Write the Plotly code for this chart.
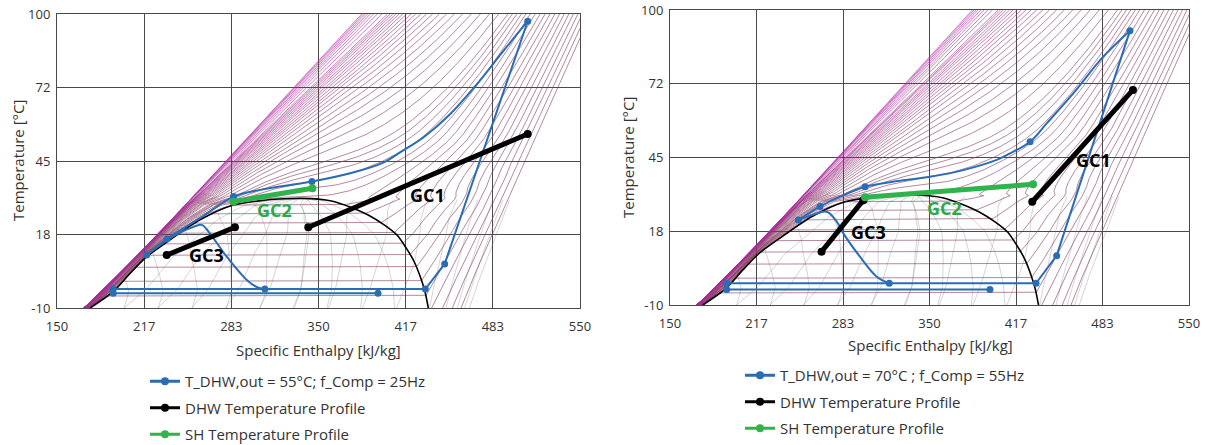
import numpy as np
import plotly.graph_objects as go

W, H = 1205, 445

# ---------------- saturation dome (R744) ----------------
DOME_H = [175.3, 193.0, 206.0, 218.6, 236.4, 259.4, 284.9, 310.4, 324.0, 337.0, 350.0, 360.0,
          374.5, 388.0, 400.5, 410.0, 417.0, 423.0, 428.0, 431.5, 434.0]
DOME_T = [-10.0, -3.9, 3.0, 9.2, 15.5, 23.0, 28.5, 30.4, 30.85, 31.0, 30.75, 30.0,
          27.7, 24.8, 21.0, 17.3, 12.5, 7.5, 1.5, -4.0, -10.0]

# ---------------- cycle A: T_DHW,out = 55 °C, 25 Hz ----------------
A_GC_H = [510.0, 491.6, 471.2, 450.8, 430.4, 412.6, 400.0, 374.3, 345.0, 305.3, 285.0, 262.0, 234.0, 218.6]
A_GC_T = [97.3, 86.3, 73.8, 62.6, 53.9, 48.3, 44.5, 40.4, 37.3, 34.2, 31.7, 24.5, 15.8, 9.8]
A_EXP_H = [218.6, 240.0, 255.0, 260.7, 266.0, 279.8, 295.1, 303.0, 309.0]
A_EXP_T = [9.8, 17.2, 20.5, 21.1, 18.5, 9.2, 0.5, -2.2, -2.9]
A_LOOP_H = [193.0, 431.7, 446.5, 510.0]
A_LOOP_T = [-2.9, -2.9, 6.5, 97.3]
A_LOW_H = [193.0, 395.5]
A_LOW_T = [-4.5, -4.5]
A_DOT_H = [510.0, 345.0, 285.0, 234.0, 218.6, 193.0, 193.0, 309.0, 395.5, 431.7, 446.5]
A_DOT_T = [97.3, 37.3, 31.7, 15.8, 9.8, -2.9, -4.5, -2.9, -4.5, -2.9, 6.5]
A_GC1_H, A_GC1_T = [342.2, 510.0], [20.2, 55.1]
A_GC3_H, A_GC3_T = [233.9, 286.1], [9.8, 20.2]
A_SH_H, A_SH_T = [284.9, 345.3], [29.8, 34.8]
A_LABELS = [("GC1", 433.0, 32.3), ("GC2", 316.7, 26.5), ("GC3", 264.5, 9.8)]

# ---------------- cycle B: T_DHW,out = 70 °C, 55 Hz ----------------
B_GC_H = [504.5, 483.9, 460.8, 440.3, 427.5, 409.5, 401.8, 376.0, 350.4, 325.0, 300.3, 283.6, 265.6, 248.9]
B_GC_T = [92.3, 82.6, 68.9, 57.7, 50.9, 45.9, 44.1, 40.3, 37.8, 36.2, 34.1, 31.0, 26.7, 21.7]
B_EXP_H = [248.9, 260.0, 270.8, 278.5, 283.6, 296.4, 309.3, 319.0]
B_EXP_T = [21.7, 23.6, 24.8, 21.1, 16.7, 8.0, 0.55, -1.9]
B_LOOP_H = [193.7, 432.1, 448.0, 504.5]
B_LOOP_T = [-1.9, -1.9, 8.4, 92.3]
B_LOW_H = [193.7, 396.6]
B_LOW_T = [-4.2, -4.2]
B_DOT_H = [504.5, 427.5, 300.3, 265.6, 248.9, 193.7, 193.7, 319.0, 396.6, 432.1, 448.0]
B_DOT_T = [92.3, 50.9, 34.1, 26.7, 21.7, -1.9, -4.2, -1.9, -4.2, -1.9, 8.4]
B_GC1_H, B_GC1_T = [429.2, 506.8], [28.5, 70.2]
B_GC3_H, B_GC3_T = [266.8, 299.0], [9.9, 29.1]
B_SH_H, B_SH_T = [300.3, 429.8], [30.2, 35.0]
B_LABELS = [("GC1", 476.2, 44.1), ("GC2", 361.8, 26.1), ("GC3", 302.6, 17.3)]

LEG_A = "T_DHW,out = 55°C; f_Comp = 25Hz"
LEG_B = "T_DHW,out = 70°C ; f_Comp = 55Hz"
LEG_DHW = "DHW Temperature Profile"
LEG_SH = "SH Temperature Profile"

X_TICKS = [150, 216.67, 283.33, 350, 416.67, 483.33, 550]
X_TEXT = ["150", "217", "283", "350", "417", "483", "550"]
Y_TICKS = [-10, 17.5, 45, 72.5, 100]
Y_TEXT = ["-10", "18", "45", "72", "100"]

# background property lines: isobars [bar] and isentropes [kJ/(kg K) above sat. liquid at -10 °C]
ISOBARS_BAR = list(range(10, 105, 5)) + list(range(110, 310, 10)) + list(range(325, 525, 25))
ISENTROPE_STEPS = [0.1 * k for k in range(1, 15)]
EDGE_H = (175.5, 383.0)     # liquid edge of the isobar fan at -10 °C and 100 °C

# ---------------- Peng-Robinson model of CO2 for the chart background ----------------
SQ2 = np.sqrt(2.0)
MW = 44.0098
RG = 8314.462618 / MW
TC, PC, OMEGA = 304.1282, 7.3773e6, 0.22394
A_C = 0.45724 * RG ** 2 * TC ** 2 / PC
B_C = 0.07780 * RG * TC / PC
KAPPA = 0.37464 + 1.54226 * OMEGA - 0.26992 * OMEGA ** 2
CP = (22.26, 5.981e-2, -3.501e-5, 7.469e-9)   # ideal-gas cp, kJ/(kmol K)
T_SUB = 30.95


def h_ideal(T):
    c0, c1, c2, c3 = CP
    f = lambda t: c0 * t + c1 * t ** 2 / 2 + c2 * t ** 3 / 3 + c3 * t ** 4 / 4
    return (f(T) - f(273.15)) * 1000.0 / MW


def s_ideal(T, P):
    c0, c1, c2, c3 = CP
    f = lambda t: c0 * np.log(t) + c1 * t + c2 * t ** 2 / 2 + c3 * t ** 3 / 3
    return (f(T) - f(273.15)) * 1000.0 / MW - RG * np.log(P / 1e5)


def pr_eval(T, P):
    T, P = np.broadcast_arrays(np.asarray(T, float), np.asarray(P, float))
    sqa = 1 + KAPPA * (1 - np.sqrt(T / TC))
    a = A_C * sqa ** 2
    da = -A_C * KAPPA * sqa / np.sqrt(T * TC)
    A = a * P / (RG * T) ** 2
    B = B_C * P / (RG * T)
    C = np.zeros(T.shape + (3, 3))
    C[..., 0, 0] = 1 - B
    C[..., 0, 1] = -(A - 3 * B ** 2 - 2 * B)
    C[..., 0, 2] = A * B - B ** 2 - B ** 3
    C[..., 1, 0] = 1.0
    C[..., 2, 1] = 1.0
    r = np.linalg.eigvals(C)
    Bx, Ax = B[..., None], A[..., None]
    Z = np.where(np.abs(r.imag) < 1e-7, r.real, np.nan)
    Z = np.where(Z > Bx * 1.0000001, Z, np.nan)
    with np.errstate(invalid="ignore", divide="ignore"):
        L = np.log((Z + (1 + SQ2) * Bx) / (Z + (1 - SQ2) * Bx))
        lnphi = Z - 1 - np.log(Z - Bx) - Ax / (2 * SQ2 * Bx) * L
        h = h_ideal(T)[..., None] + RG * T[..., None] * (Z - 1) + ((T * da - a) / (2 * SQ2 * B_C))[..., None] * L
        s = s_ideal(T, P)[..., None] + RG * np.log(Z - Bx) + (da / (2 * SQ2 * B_C))[..., None] * L
    return Z, lnphi, h, s


def pick(arr, idx):
    return np.take_along_axis(arr, idx[..., None], axis=-1)[..., 0]


def pr_stable(T, P):
    Z, lnphi, h, s = pr_eval(T, P)
    idx = np.argmin(np.where(np.isnan(lnphi), np.inf, lnphi), axis=-1)
    return pick(h, idx), pick(s, idx)


def pr_sat(T):
    T = np.asarray(T, float)
    lo, hi = np.full(T.shape, 1e3), np.full(T.shape, PC)
    for _ in range(55):
        P = 0.5 * (lo + hi)
        Z, lnphi, h, s = pr_eval(T, P)
        n = np.sum(~np.isnan(Z), axis=-1)
        il = np.argmin(np.where(np.isnan(Z), np.inf, Z), axis=-1)
        iv = np.argmax(np.where(np.isnan(Z), -np.inf, Z), axis=-1)
        up = np.where(n == 1, pick(Z, il) > 0.307, pick(lnphi, il) > pick(lnphi, iv))
        lo, hi = np.where(up, P, lo), np.where(up, hi, P)
    P = 0.5 * (lo + hi)
    Z, lnphi, h, s = pr_eval(T, P)
    il = np.argmin(np.where(np.isnan(Z), np.inf, Z), axis=-1)
    iv = np.argmax(np.where(np.isnan(Z), -np.inf, Z), axis=-1)
    return P, pick(h, il), pick(h, iv), pick(s, il), pick(s, iv)


_, HL_REF, HV_REF, SL_REF, _ = pr_sat(np.array([263.15]))
HL_REF, HV_REF, SL_REF = HL_REF[0] / 1000, HV_REF[0] / 1000, SL_REF[0]

itop = int(np.argmax(DOME_T))
liq_T, liq_H = np.array(DOME_T[:itop + 1]), np.array(DOME_H[:itop + 1])
vap_T, vap_H = np.array(DOME_T[itop:][::-1]), np.array(DOME_H[itop:][::-1])
HC_DOME = DOME_H[itop]


def lin(h):
    return DOME_H[0] + (h / 1000.0 - HL_REF) * (DOME_H[-1] - DOME_H[0]) / (HV_REF - HL_REF)


HC_PR = lin(pr_stable(np.array([TC]), np.array([PC]))[0][0])


def knots(Tdeg):
    """per-temperature enthalpy knots: model scale -> chart scale"""
    Tk = Tdeg + 273.15
    hmax = lin(pr_stable(Tk, max(ISOBARS_BAR) * 1e5)[0])
    edge = EDGE_H[0] + (Tdeg + 10) * (EDGE_H[1] - EDGE_H[0]) / 110.0
    _, hl, hv, _, _ = pr_sat(np.minimum(Tk, T_SUB + 273.15))
    hl, hv = lin(hl), lin(hv)
    hv = np.maximum(hv, hl + 0.5)
    hld = np.interp(Tdeg, liq_T, liq_H)
    hvd = np.interp(Tdeg, vap_T, vap_H)
    hci = lin(pr_stable(Tk, PC)[0])
    fade = 0.5 + 0.5 * np.cos(np.pi * np.clip((Tdeg - T_SUB) / 25.0, 0, 1))
    dl = (HC_DOME - HC_PR) * fade
    sub = Tdeg < T_SUB
    src = np.where(sub[:, None], np.stack([hmax, hl, hv, hv + 80], 1),
                   np.stack([hmax, hci, hci + 0.5, hci + 80], 1))
    dst = np.where(sub[:, None], np.stack([np.minimum(edge, hld - 0.3), hld, hvd, hv + 80], 1),
                   np.stack([edge, hci + dl, hci + 0.5 + dl, hci + 80], 1))
    return src, dst


def to_chart(hmodel, src, dst):
    out = np.empty_like(hmodel)
    for i in range(hmodel.shape[0]):
        x = hmodel[i]
        y = np.interp(x, src[i], dst[i])
        y = np.where(x < src[i, 0], dst[i, 0] + (x - src[i, 0]), y)
        y = np.where(x > src[i, -1], x, y)
        out[i] = y
    return out


# isobars (rows: temperature, columns: pressure)
T_GRID = np.arange(-10.0, 100.01, 0.25)
TT, PP = np.meshgrid(T_GRID + 273.15, np.array(ISOBARS_BAR, float) * 1e5, indexing="ij")
h_iso = lin(pr_stable(TT, PP)[0])
src_i, dst_i = knots(T_GRID)
H_ISO = to_chart(h_iso, src_i, dst_i)

# isentropes in the two-phase and vapour region
T_S = np.arange(-10.0, T_SUB, 0.5)
Ps, hls, hvs, sls, svs = pr_sat(T_S + 273.15)
S0 = SL_REF + np.array(ISENTROPE_STEPS) * 1000.0
TS2, S2 = np.meshgrid(T_S + 273.15, S0, indexing="ij")
psat2 = np.broadcast_to(Ps[:, None], TS2.shape)
sl2, sv2 = np.broadcast_to(sls[:, None], TS2.shape), np.broadcast_to(svs[:, None], TS2.shape)
hl2, hv2 = np.broadcast_to(hls[:, None], TS2.shape), np.broadcast_to(hvs[:, None], TS2.shape)
two = (S2 >= sl2) & (S2 <= sv2)
x2 = np.where(two, (S2 - sl2) / (sv2 - sl2), 0.0)
h_two = hl2 + x2 * (hv2 - hl2)
lo = np.full(TS2.shape, np.log(1e3))
hi = np.log(psat2) * np.ones(TS2.shape)
for _ in range(45):
    mid = 0.5 * (lo + hi)
    _, s_mid = pr_stable(TS2, np.exp(mid))
    up = s_mid > S2
    lo, hi = np.where(up, mid, lo), np.where(up, hi, mid)
h_one, s_one = pr_stable(TS2, np.exp(0.5 * (lo + hi)))
vap = (S2 > sv2) & (np.abs(s_one - S2) < 2.0)
h_isen = np.where(two, h_two, np.where(vap, h_one, np.nan))
src_s, dst_s = knots(T_S)
H_ISEN = to_chart(lin(h_isen), src_s, dst_s)


def mix(c1, c2, f):
    return "rgb(%d,%d,%d)" % tuple(int(round(c1[i] + (c2[i] - c1[i]) * f)) for i in range(3))


LOW_C = (132, 58, 96)
HIGH_C = (178, 40, 168)
FONT = "Open Sans"

fig = go.Figure()


def add_panel(xa, ya, gc, exp, loop, low, dots, gc1, gc3, sh, labels, legend, leg_main):
    grey = dict(color="rgba(120,120,120,0.45)", width=0.7)
    for j in range(H_ISEN.shape[1]):
        fig.add_trace(go.Scatter(x=H_ISEN[:, j], y=T_S, mode="lines", xaxis=xa, yaxis=ya, line=grey,
                                 showlegend=False, hoverinfo="skip"))
    tq = np.linspace(-10, max(DOME_T) - 0.2, 60)
    hl = np.interp(tq, liq_T, liq_H)
    hv = np.interp(tq, vap_T, vap_H)
    for q in np.arange(0.1, 0.95, 0.1):
        fig.add_trace(go.Scatter(x=hl + q * (hv - hl), y=tq, mode="lines", xaxis=xa, yaxis=ya, line=grey,
                                 showlegend=False, hoverinfo="skip"))
    lp, hp = np.log(150.0), np.log(max(ISOBARS_BAR))
    for k, pb in enumerate(ISOBARS_BAR):
        f = float(np.clip((np.log(pb) - lp) / (hp - lp), 0, 1)) ** 0.7
        fig.add_trace(go.Scatter(x=H_ISO[:, k], y=T_GRID, mode="lines", xaxis=xa, yaxis=ya,
                                 line=dict(color=mix(LOW_C, HIGH_C, f), width=0.7),
                                 opacity=0.85, showlegend=False, hoverinfo="skip"))
    fig.add_trace(go.Scatter(x=DOME_H, y=DOME_T, mode="lines", xaxis=xa, yaxis=ya,
                             line=dict(color="black", width=1.6, shape="spline", smoothing=0.8),
                             showlegend=False, hoverinfo="skip"))
    blue = "#2a6db5"
    for hx, ty, shp in [(gc[0], gc[1], "spline"), (exp[0], exp[1], "spline"),
                        (loop[0], loop[1], "linear"), (low[0], low[1], "linear")]:
        fig.add_trace(go.Scatter(x=hx, y=ty, mode="lines", xaxis=xa, yaxis=ya,
                                 line=dict(color=blue, width=2, shape=shp, smoothing=1.0),
                                 showlegend=False, hoverinfo="skip"))
    fig.add_trace(go.Scatter(x=dots[0], y=dots[1], mode="markers", xaxis=xa, yaxis=ya,
                             marker=dict(color=blue, size=7), showlegend=False, hoverinfo="skip"))
    fig.add_trace(go.Scatter(x=[None], y=[None], mode="lines+markers", name=leg_main, legend=legend,
                             line=dict(color=blue, width=3), marker=dict(color=blue, size=8),
                             legendgroup=legend + "a", xaxis=xa, yaxis=ya))
    for seg, col in [(gc1, "black"), (gc3, "black"), (sh, "#2fb34c")]:
        fig.add_trace(go.Scatter(x=seg[0], y=seg[1], mode="lines+markers", xaxis=xa, yaxis=ya,
                                 line=dict(color=col, width=5), marker=dict(color=col, size=8),
                                 showlegend=False, hoverinfo="skip"))
    fig.add_trace(go.Scatter(x=[None], y=[None], mode="lines+markers", name=LEG_DHW, legend=legend,
                             line=dict(color="black", width=3), marker=dict(color="black", size=8),
                             legendgroup=legend + "b", xaxis=xa, yaxis=ya))
    fig.add_trace(go.Scatter(x=[None], y=[None], mode="lines+markers", name=LEG_SH, legend=legend,
                             line=dict(color="#2fb34c", width=3), marker=dict(color="#2fb34c", size=8),
                             legendgroup=legend + "c", xaxis=xa, yaxis=ya))
    for txt, hx, ty in labels:
        fig.add_annotation(x=hx, y=ty, xref=xa, yref=ya, text="<b>%s</b>" % txt, showarrow=False,
                           xanchor="center", yanchor="middle",
                           font=dict(size=18, color="#2fa84a" if txt == "GC2" else "black", family=FONT))


add_panel("x", "y", (A_GC_H, A_GC_T), (A_EXP_H, A_EXP_T), (A_LOOP_H, A_LOOP_T), (A_LOW_H, A_LOW_T),
          (A_DOT_H, A_DOT_T), (A_GC1_H, A_GC1_T), (A_GC3_H, A_GC3_T), (A_SH_H, A_SH_T),
          A_LABELS, "legend", LEG_A)
add_panel("x2", "y2", (B_GC_H, B_GC_T), (B_EXP_H, B_EXP_T), (B_LOOP_H, B_LOOP_T), (B_LOW_H, B_LOW_T),
          (B_DOT_H, B_DOT_T), (B_GC1_H, B_GC1_T), (B_GC3_H, B_GC3_T), (B_SH_H, B_SH_T),
          B_LABELS, "legend2", LEG_B)

axis_common = dict(showgrid=True, gridcolor="#4a4a4a", gridwidth=1, zeroline=False,
                   showline=True, linecolor="#4a4a4a", linewidth=1, mirror=True,
                   ticks="outside", tickcolor="rgba(0,0,0,0)",
                   tickfont=dict(size=13, color="#333", family=FONT))
xa = dict(range=[150, 550], tickvals=X_TICKS, ticktext=X_TEXT, ticklen=6, **axis_common)
ya = dict(range=[-10, 100], tickvals=Y_TICKS, ticktext=Y_TEXT, ticklen=3, **axis_common)


def px(xp):
    return xp / W


def py(yp):
    return 1 - yp / H


leg_font = dict(size=15, color="#333", family=FONT)
fig.update_layout(
    width=W, height=H, margin=dict(l=0, r=0, t=0, b=0, autoexpand=False),
    paper_bgcolor="white", plot_bgcolor="white",
    xaxis=dict(domain=[px(57), px(580)], anchor="y", **xa),
    yaxis=dict(domain=[py(308), py(14)], anchor="x", **ya),
    xaxis2=dict(domain=[px(670), px(1189)], anchor="y2", **xa),
    yaxis2=dict(domain=[py(305), py(10)], anchor="x2", **ya),
    legend=dict(x=px(145), y=py(365), xanchor="left", yanchor="top", bgcolor="rgba(0,0,0,0)",
                font=leg_font, itemwidth=30, tracegroupgap=4),
    legend2=dict(x=px(740), y=py(359), xanchor="left", yanchor="top", bgcolor="rgba(0,0,0,0)",
                 font=leg_font, itemwidth=30, tracegroupgap=4),
    showlegend=True,
)

for xp, yp, rot, txt in [(18, 161, -90, "Temperature [°C]"), (628, 158, -90, "Temperature [°C]"),
                         (318, 350, 0, "Specific Enthalpy [kJ/kg]"), (930, 345, 0, "Specific Enthalpy [kJ/kg]")]:
    fig.add_annotation(x=px(xp), y=py(yp), xref="paper", yref="paper", text=txt, showarrow=False,
                       xanchor="center", yanchor="middle", textangle=rot,
                       font=dict(size=15, color="#333", family=FONT))

fig.write_html("out.html")
